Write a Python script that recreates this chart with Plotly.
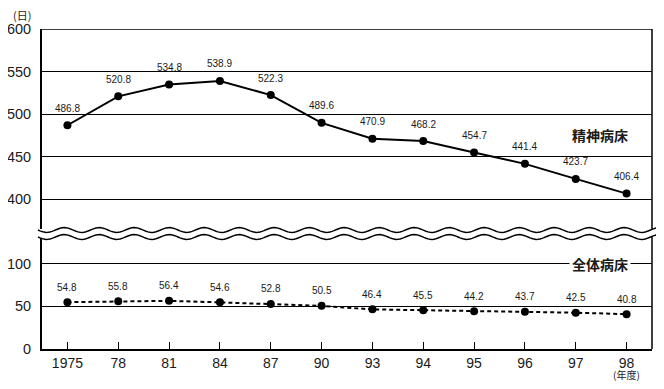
import math
import plotly.graph_objects as go

categories = ["1975", "78", "81", "84", "87", "90", "93", "94", "95", "96", "97", "98"]
psych_days = [486.8, 520.8, 534.8, 538.9, 522.3, 489.6, 470.9, 468.2, 454.7, 441.4, 423.7, 406.4]
all_days = [54.8, 55.8, 56.4, 54.6, 52.8, 50.5, 46.4, 45.5, 44.2, 43.7, 42.5, 40.8]
top_ticks = [400, 450, 500, 550, 600]
bottom_ticks = [0, 50, 100]

OFF = 8  # default page body margin
W, H = 664 - 2 * OFF, 389 - 2 * OFF
ML, MT = 34, 21
PW, PH = 610, 320
MR, MB = W - ML - PW, H - MT - PH

def px2paper(px, py):
    # page pixel -> paper coords
    return (px - OFF - ML) / PW, (OFF + MT + PH - py) / PH

TXT = "#1a1a1a"
NUMFONT = "Liberation Sans Narrow, Arial Narrow, Liberation Sans, sans-serif"
AXFONT = "Liberation Sans, Arial, sans-serif"
JPFONT = "Noto Sans CJK JP"

fig = go.Figure()
fig.add_trace(go.Scatter(
    x=categories, y=psych_days, xaxis="x", yaxis="y2", mode="lines+markers",
    line=dict(color="black", width=2), marker=dict(color="black", size=8),
    showlegend=False, cliponaxis=False))
fig.add_trace(go.Scatter(
    x=categories, y=all_days, xaxis="x", yaxis="y", mode="lines+markers",
    line=dict(color="black", width=2, dash="4px,3px"), marker=dict(color="black", size=8),
    showlegend=False, cliponaxis=False))

annotations = []
for i, v in enumerate(psych_days):
    annotations.append(dict(x=i, y=v, xref="x", yref="y2", text=f"{v:.1f}", showarrow=False,
                            xanchor="center", yanchor="middle",
                            yshift=17, font=dict(family=NUMFONT, size=10, color=TXT)))
for i, v in enumerate(all_days):
    annotations.append(dict(x=i, y=v, xref="x", yref="y", text=f"{v:.1f}", showarrow=False,
                            xanchor="center", yanchor="middle",
                            yshift=15, font=dict(family=NUMFONT, size=10, color=TXT)))

lab = dict(showarrow=False, xanchor="center", yanchor="middle")
annotations.append(dict(x=0.915, y=475, xref="paper", yref="y2", text="<b>精神病床</b>",
                        font=dict(family=JPFONT, size=14, color=TXT), **lab))
annotations.append(dict(x=0.915, y=100, xref="paper", yref="y", text="<b>全体病床</b>",
                        bgcolor="white", borderpad=2,
                        font=dict(family=JPFONT, size=14, color=TXT), **lab))
annotations.append(dict(x=len(categories) - 1, y=-0.0803, xref="x", yref="paper", text="(年度)",
                        font=dict(family=JPFONT, size=10, color=TXT), **lab))
annotations.append(dict(x=-0.033, y=1.0447, xref="paper", yref="paper", text="(日)",
                        font=dict(family=JPFONT, size=11, color=TXT), **lab))

# broken-axis wave decoration
yc, gap, amp, per = 233.5, 3.5, 2.4, 35.0
xs = [38 + i for i in range(0, 630, 2)]
def wave(off):
    return [(x, yc + off + amp * math.sin(2 * math.pi * (x - 38) / per)) for x in xs]
up = wave(-gap)
dn = wave(gap)
def path(pts, close=False):
    s = ""
    for i, (x, y) in enumerate(pts):
        a, b = px2paper(x, y)
        s += ("M" if i == 0 else "L") + f"{a:.5f},{b:.5f} "
    return s + ("Z" if close else "")

shapes = [
    dict(type="path", xref="paper", yref="paper", path=path(up + dn[::-1], True),
         fillcolor="white", line=dict(width=0), layer="above"),
    dict(type="path", xref="paper", yref="paper", path=path(up), line=dict(color="black", width=1.5), layer="above"),
    dict(type="path", xref="paper", yref="paper", path=path(dn), line=dict(color="black", width=1.5), layer="above"),
    dict(type="line", xref="paper", yref="y2", x0=0, x1=1, y0=top_ticks[-1], y1=top_ticks[-1],
         line=dict(color="black", width=1.5), layer="below"),
    dict(type="line", xref="paper", yref="paper", x0=1, x1=1, y0=0, y1=1,
         line=dict(color="black", width=1.5), layer="below"),
]

fig.update_layout(
    width=W, height=H, margin=dict(l=ML, r=MR, t=MT, b=MB, autoexpand=False),
    paper_bgcolor="white", plot_bgcolor="white",
    xaxis=dict(type="category", range=[-0.5, 11.5], anchor="y", showline=True, linecolor="black",
               linewidth=2, ticks="inside", ticklen=7, tickcolor="black", tickwidth=1,
               showgrid=False, automargin=False, tickfont=dict(family=AXFONT, size=14, color=TXT)),
    yaxis=dict(domain=[0, 0.3603], range=[0, 135], anchor="x", tickvals=bottom_ticks,
               showline=True, linecolor="black", linewidth=2, showgrid=True, gridcolor="black",
               gridwidth=1.2, zeroline=False, ticks="", ticklen=0, ticklabelstandoff=6, automargin=False,
               tickfont=dict(family=AXFONT, size=14.5, color=TXT)),
    yaxis2=dict(domain=[0.3756, 1], range=[365, 600], anchor="x", tickvals=top_ticks,
                showline=True, linecolor="black", linewidth=2, showgrid=True, gridcolor="black",
                gridwidth=1.2, zeroline=False, ticks="", ticklen=0, ticklabelstandoff=6, automargin=False,
                tickfont=dict(family=AXFONT, size=14.5, color=TXT)),
    annotations=annotations, shapes=shapes,
)

fig.write_html("out.html")
